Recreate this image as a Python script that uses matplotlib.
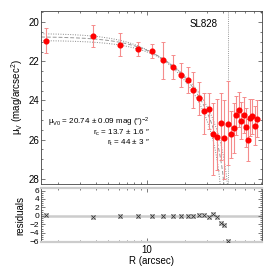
import numpy as np
import matplotlib
matplotlib.use("Agg")
import matplotlib.pyplot as plt
from matplotlib.ticker import MultipleLocator, FixedLocator, NullFormatter

plt.rcParams['font.family'] = ['Liberation Sans', 'DejaVu Sans']
plt.rcParams['mathtext.fontset'] = 'custom'
plt.rcParams['mathtext.rm'] = 'Liberation Sans'
plt.rcParams['mathtext.it'] = 'Liberation Sans:italic'

# ---- data ----
radius = [1.60, 3.76, 6.17, 8.59, 11.07, 13.5, 16.0, 18.5, 21.0, 23.4,
          25.9, 28.5, 31.0, 33.4, 35.9, 38.3, 40.9, 43.4, 45.9, 48.4,
          50.8, 53.2, 55.6, 58.2, 60.8, 63.1, 65.7, 68.3, 70.9, 73.5]
mu_v = [20.96, 20.71, 21.15, 21.36, 21.49, 21.95, 22.29, 22.71, 22.96, 23.47,
        23.89, 24.53, 24.45, 25.69, 25.85, 25.14, 25.90, 25.21, 25.74, 25.41,
        24.75, 24.48, 25.04, 24.74, 25.38, 26.02, 24.89, 24.82, 25.29, 24.94]
err_up = [0.65, 0.57, 0.59, 0.37, 0.35, 0.94, 0.60, 0.60, 0.65, 0.90,
          0.85, 0.93, 0.85, 1.55, 1.90, 1.50, 1.90, 2.20, 1.20, 1.30,
          1.00, 0.90, 0.95, 0.90, 1.00, 1.05, 0.95, 0.90, 1.00, 0.95]
err_dn = [0.62, 0.58, 0.59, 0.39, 0.35, 0.94, 0.60, 0.60, 0.65, 0.90,
          0.85, 1.20, 1.00, 2.10, 1.70, 1.90, 2.10, 2.10, 1.20, 1.30,
          1.00, 0.90, 0.95, 0.90, 1.00, 1.05, 0.95, 0.90, 1.00, 0.95]
resid_r = radius[:18]
residuals = [0.1, -0.25, 0.0, 0.0, 0.0, 0.0, 0.0, 0.0, 0.0, 0.0,
             0.1, 0.2, -0.25, 0.4, -0.2, -1.8, -2.2, -6.0]

# King model parameters (best fit and envelope)
mu0_best, rc_best, rt_best = 20.74, 13.7, 44.0
env_mu0 = [20.57, 20.93]
env_rc = [12.1, 15.3]
env_rt = [41.0, 47.0]

ann_lines = ['μ$_{\\rm V0}$ = 20.74 ± 0.09 mag (″)$^{-2}$',
             'r$_{\\rm c}$ = 13.7 ± 1.6 ″',
             'r$_{\\rm t}$ = 44 ± 3 ″']
cluster_name = 'SL828'


def king_mu(r, mu0, rc, rt):
    xt = 1.0 / np.sqrt(1 + (rt / rc) ** 2)
    x = 1.0 / np.sqrt(1 + (r / rc) ** 2)
    f = np.clip((x - xt) / (1 - xt), 1e-12, None) ** 2
    return mu0 - 2.5 * np.log10(f)


fig = plt.figure(figsize=(2.7, 2.7), dpi=100)
ax = fig.add_axes([0.152, 0.3185, 0.8167, 0.6407])
axr = fig.add_axes([0.152, 0.1037, 0.8167, 0.200])

xlim = (1.47, 80.5)
for a in (ax, axr):
    a.set_xscale('log')
    a.set_xlim(*xlim)

# model curves
rr = np.logspace(np.log10(xlim[0]), np.log10(xlim[1]), 800)
for m0, rc, rt in zip(env_mu0, env_rc, env_rt):
    rs = rr[rr < rt]
    ax.plot(rs, king_mu(rs, m0, rc, rt), ls=(0, (1, 1.5)), color='#888888', lw=0.7)
rs = rr[rr < rt_best]
ax.plot(rs, king_mu(rs, mu0_best, rc_best, rt_best), ls=(0, (4, 2)), color='#999999', lw=0.7)

ax.axvline(rt_best, color='#999999', ls=(0, (1, 1.2)), lw=0.7)

ax.errorbar(radius, mu_v, yerr=[err_up, err_dn], fmt='none', ecolor='#f58c8c',
            elinewidth=0.8, capsize=1.6, capthick=0.7)
ax.plot(radius, mu_v, 'o', color='#ff0000', ms=3.4, mec='#ff0000', zorder=5)

ax.set_ylim(28.27, 19.43)
ax.yaxis.set_major_locator(MultipleLocator(2))
ax.yaxis.set_minor_locator(MultipleLocator(0.5))
ax.xaxis.set_major_formatter(NullFormatter())
ax.xaxis.set_minor_formatter(NullFormatter())
ax.set_ylabel('μ$_{\\rm V}$ (mag/arcsec$^2$)', fontsize=7, labelpad=2)

ax.text(0.80, 0.925, cluster_name, transform=ax.transAxes, fontsize=7,
        ha='right', va='center')
ys = [0.356, 0.296, 0.240]
for t, y in zip(ann_lines, ys):
    ax.text(0.494, y, t, transform=ax.transAxes, fontsize=5.8, ha='right', va='center')

# residuals
axr.axhline(0, color='#cccccc', lw=1.8, zorder=1)
axr.plot(resid_r, residuals, 's', mfc='none', mec='#bbbbbb', ms=3.2, mew=0.6, zorder=3)
axr.plot(resid_r, residuals, 'x', color='#333333', ms=2.6, mew=0.6, zorder=4)
axr.set_ylim(-6.2, 6.6)
axr.yaxis.set_minor_locator(MultipleLocator(0.5))
axr.set_yticks([-6, -4, -2, 0, 2, 4, 6])
axr.set_yticklabels(['−6', '−4', '−2', '0', '2', '4', '6'], fontsize=6)
axr.xaxis.set_major_locator(FixedLocator([10]))
axr.set_xticklabels(['10'], fontsize=7)
axr.set_xlabel('R (arcsec)', fontsize=7, labelpad=1)
axr.set_ylabel('residuals', fontsize=7, labelpad=3)
axr.spines['top'].set_color('#cccccc')
axr.spines['top'].set_linewidth(1.6)
axr.spines['bottom'].set_color('#cccccc')
axr.spines['bottom'].set_linewidth(1.6)

for a in (ax, axr):
    a.tick_params(which='both', direction='in', top=True, right=True, width=0.5,
                  color='#444444', pad=2)
    a.tick_params(which='major', length=3)
    a.tick_params(which='minor', length=1.5)
    a.tick_params(axis='y', labelsize=7 if a is ax else 6, pad=1.5)
    for s in ['left', 'right']:
        a.spines[s].set_linewidth(0.6)
        a.spines[s].set_color('#444444')
ax.spines['top'].set_linewidth(0.6)
ax.spines['top'].set_color('#444444')
ax.spines['bottom'].set_linewidth(0.6)
ax.spines['bottom'].set_color('#444444')

fig.savefig('out.png', dpi=100)
